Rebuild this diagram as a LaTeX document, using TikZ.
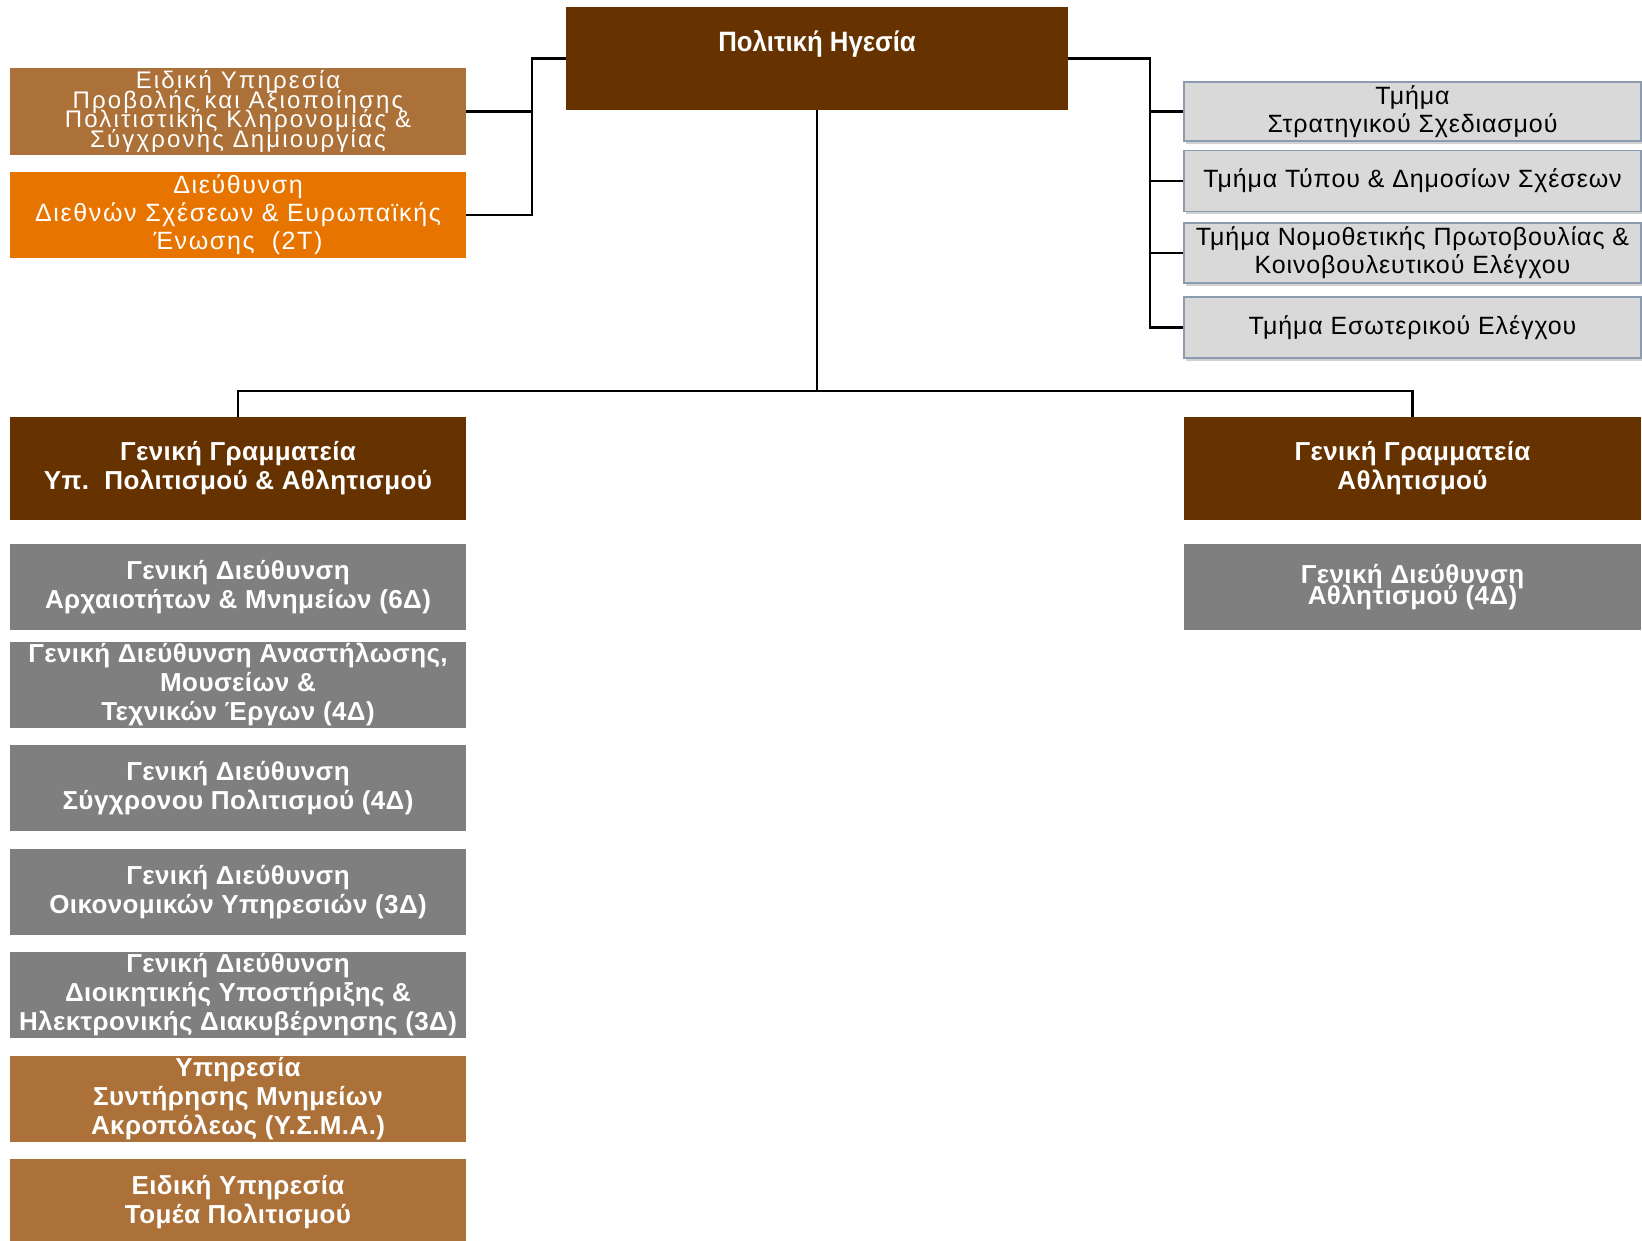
\documentclass[tikz,border=0pt]{standalone}
\usepackage{fontspec}
\setmainfont{Liberation Sans}
\newfontfamily\spbold[LetterSpace=1.5]{Liberation Sans}
\newfontfamily\spreg[LetterSpace=3.5]{Liberation Sans}
\newfontfamily\spwide[LetterSpace=6.5]{Liberation Sans}
\newfontfamily\spA[LetterSpace=9]{Liberation Sans}
\newcommand\tightlines{\lineskiplimit=-50pt\relax\lineskip=0pt\relax}
\usepackage{graphicx}
\usetikzlibrary{shadows}
\definecolor{dbrown}{HTML}{663300}
\definecolor{tan}{HTML}{AB7138}
\definecolor{orng}{HTML}{E87400}
\definecolor{gbox}{HTML}{7F7F7F}
\definecolor{lgray}{HTML}{D9D9D9}
\definecolor{lborder}{HTML}{8C9CB0}
\begin{document}
\begin{tikzpicture}[x=1pt,y=-1pt,
  box/.style={rectangle, inner sep=0pt, minimum width=456pt, align=center, text=white},
  boldtxt/.style={font=\fontsize{26}{29}\spbold\bfseries},
  regtxt/.style={font=\fontsize{25}{28}\spreg},
  browncol/.style={box, fill=dbrown, boldtxt},
  graycol/.style={box, fill=gbox, boldtxt},
  tancol/.style={box, fill=tan, boldtxt},
  unitbox/.style={rectangle, inner sep=0pt, minimum width=457pt, align=center, fill=lgray, draw=lborder, line width=1.2pt, text=black, regtxt,
    drop shadow={shadow xshift=2pt, shadow yshift=-3pt, fill=black, opacity=0.18}},
  conn/.style={draw=black, line width=2.4pt}]
\useasboundingbox (0,0) rectangle (1642,1241);

% top
\node[box, fill=dbrown, minimum width=502pt, minimum height=103pt] (top) at (817,58.5) {};
\node[text=white, font=\fontsize{28}{30}\selectfont\bfseries] (toplabel) at (817,44) {\scalebox{0.92}[1]{Πολιτική Ηγεσία}};

% left staff units
\node[box, fill=tan, minimum height=87pt, font=\fontsize{24}{19.5}\spA\tightlines] (A) at (238,111.5)
  {Ειδική Υπηρεσία\\Προβολής και Αξιοποίησης\\Πολιτιστικής Κληρονομιάς \&\\Σύγχρονης Δημιουργίας};
\node[box, fill=orng, minimum height=86pt, font=\fontsize{25}{28}\spwide] (B) at (238,215)
  {Διεύθυνση\\Διεθνών Σχέσεων \& Ευρωπαϊκής\\Ένωσης\ \ (2Τ)};

% right staff units
\node[unitbox, minimum height=59pt] (T1) at (1412.5,111.5) {Τμήμα\\Στρατηγικού Σχεδιασμού};
\node[unitbox, minimum height=61pt] (T2) at (1412.5,181) {Τμήμα Τύπου \& Δημοσίων Σχέσεων};
\node[unitbox, minimum height=60pt] (T3) at (1412.5,253) {Τμήμα Νομοθετικής Πρωτοβουλίας \&\\Κοινοβουλευτικού Ελέγχου};
\node[unitbox, minimum height=61pt] (T4) at (1412.5,327.5) {Τμήμα Εσωτερικού Ελέγχου};

% general secretariats
\node[browncol, minimum height=103pt] (GSL) at (238,468.5) {Γενική Γραμματεία\\Υπ.\ \ Πολιτισμού \& Αθλητισμού};
\node[browncol, minimum width=457pt, minimum height=103pt] (GSR) at (1412.5,468.5) {Γενική Γραμματεία\\Αθλητισμού};

% left column
\node[graycol, minimum height=86pt] (G1) at (238,587) {Γενική Διεύθυνση\\Αρχαιοτήτων \& Μνημείων (6Δ)};
\node[graycol, minimum height=86pt] (G2) at (238,684.5) {Γενική Διεύθυνση Αναστήλωσης,\\Μουσείων \&\\Τεχνικών Έργων (4Δ)};
\node[graycol, minimum height=86pt] (G3) at (238,788) {Γενική Διεύθυνση\\Σύγχρονου Πολιτισμού (4Δ)};
\node[graycol, minimum height=86pt] (G4) at (238,892) {Γενική Διεύθυνση\\Οικονομικών Υπηρεσιών (3Δ)};
\node[graycol, minimum height=86pt] (G5) at (238,995) {Γενική Διεύθυνση\\Διοικητικής Υποστήριξης \&\\Ηλεκτρονικής Διακυβέρνησης (3Δ)};
\node[tancol, minimum height=86pt] (YS) at (238,1098.5) {Υπηρεσία\\Συντήρησης Μνημείων\\Ακροπόλεως (Υ.Σ.Μ.Α.)};
\node[tancol, minimum height=86pt] (ET) at (238,1202) {Ειδική Υπηρεσία\\Τομέα Πολιτισμού};

% right column
\node[graycol, minimum width=457pt, minimum height=86pt, font=\fontsize{26}{20.5}\spbold\bfseries\tightlines] (GR) at (1412.5,587) {Γενική Διεύθυνση\\Αθλητισμού (4Δ)};

% connectors
\coordinate (jl) at (532,0);
\coordinate (jr) at (1150,0);
\coordinate (hb) at (0,391);
\draw[conn] (top.west) -| (jl |- B.east) -- (B.east);
\draw[conn] (A.east) -- (jl |- A.east);
\draw[conn] (top.east) -| (jr |- T4.west) -- (T4.west);
\draw[conn] (T1.west) -- (jr |- T1.west);
\draw[conn] (T2.west) -- (jr |- T2.west);
\draw[conn] (T3.west) -- (jr |- T3.west);
\draw[conn] (top.south) -- (top.south |- hb);
\draw[conn] (GSL.north) -- (GSL.north |- hb) -- (GSR.north |- hb) -- (GSR.north);
\end{tikzpicture}
\end{document}
